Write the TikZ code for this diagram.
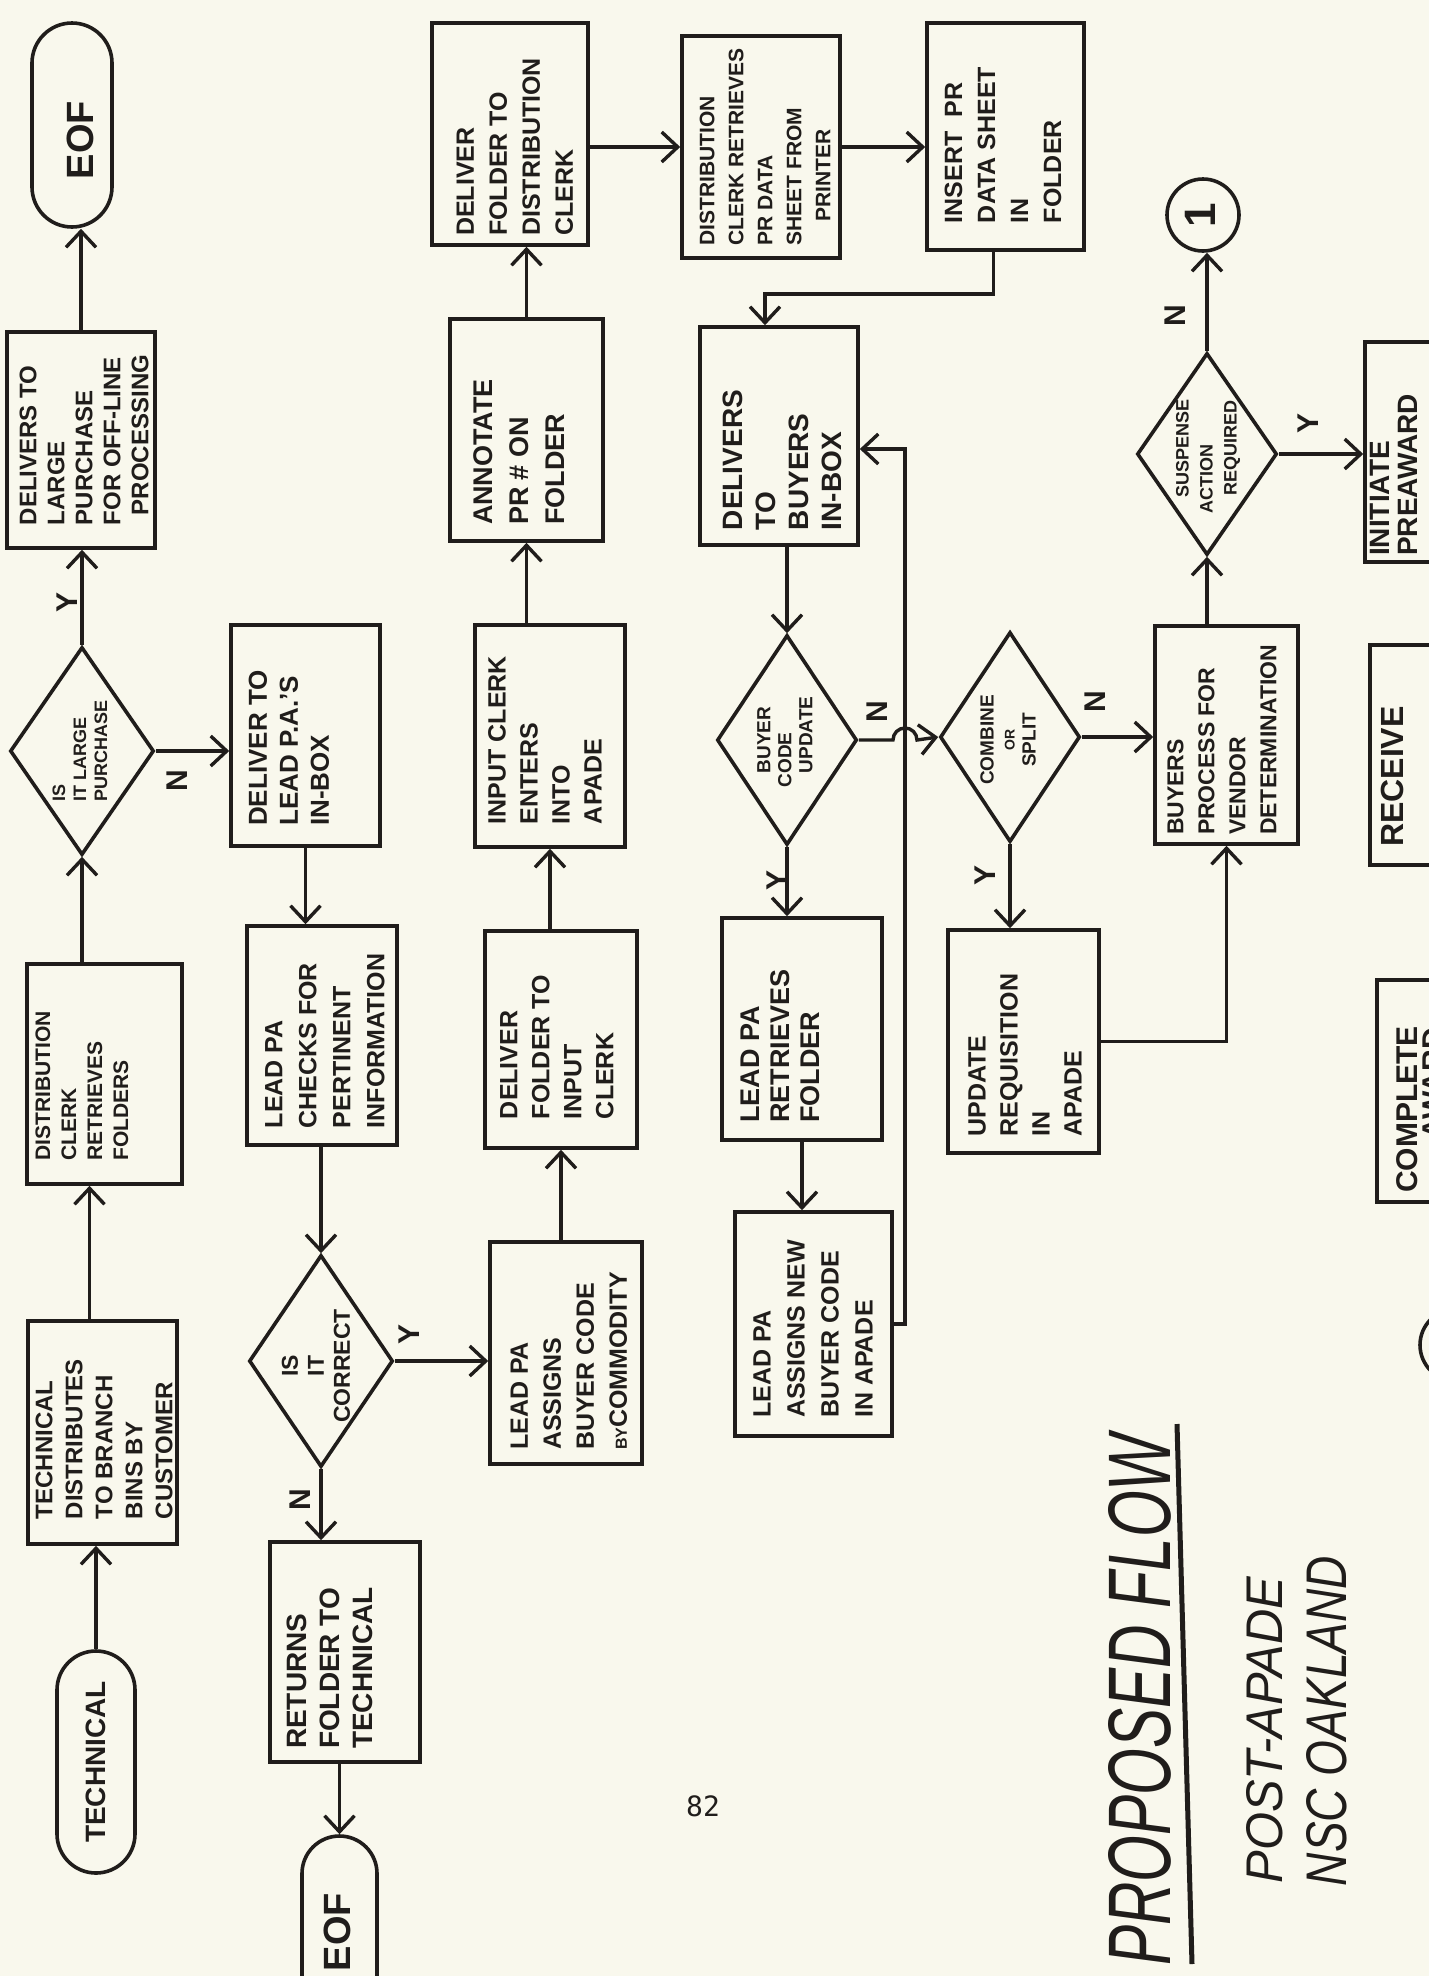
\documentclass[tikz,border=0pt]{standalone}
\usepackage{fontspec}
\usepackage{graphicx}
\setmainfont{Liberation Sans}
\newfontfamily\pagenofont{DejaVu Sans Mono}
\usetikzlibrary{shapes.geometric,arrows.meta,calc}
\definecolor{inkc}{RGB}{32,29,27}
\definecolor{paper}{RGB}{249,248,237}
\newcommand\fs[2]{\fontsize{#1}{#2}\selectfont}
\tikzset{
  stepbox/.style={draw=inkc, line width=3.6pt, rectangle, inner sep=0pt},
  termbox/.style={stepbox, rounded corners=#1},
  decide/.style={draw=inkc, line width=3.6pt, diamond, inner sep=0pt},
  conn/.style={draw=inkc, line width=3.4pt, -{Straight Barb[length=16pt,width=30pt]}},
  vt/.style={rotate=90, align=left, inner sep=0pt, text=inkc},
  vc/.style={rotate=90, align=center, inner sep=0pt, text=inkc},
  yn/.style={rotate=90, inner sep=0pt, text=inkc, font=\bfseries\fs{30}{30}},
}
\begin{document}
\begin{tikzpicture}[x=1pt,y=-1pt]
\useasboundingbox (0,0) rectangle (1429,1976);
\fill[paper] (0,0) rectangle (1429,1976);
\clip (0,0) rectangle (1429,1976);

% ---------- first column: intake ----------
\node[termbox=40pt, minimum width=80pt, minimum height=204pt] (eofA) at (72,125) {};
\node[vc, font=\bfseries\fs{38}{38}] (eofA-t) at (80,140) {EOF};
\node[stepbox, minimum width=148pt, minimum height=216pt] (dlp) at (81,440) {};
\node[vt, font=\bfseries\fs{24}{28}] (dlp-t) at (84,440) {DELIVERS TO\\LARGE\\PURCHASE\\FOR OFF-LINE\\\hspace{10pt}PROCESSING};
\node[decide, minimum width=144pt, minimum height=208pt] (d1) at (82,751) {};
\node[vt, font=\bfseries\fs{18}{21}] (d1-t) at (80,751) {IS\\IT LARGE\\PURCHASE};
\node[stepbox, minimum width=155pt, minimum height=220pt] (dcr) at (104.5,1074) {};
\node[vt, font=\bfseries\fs{21}{26}] (dcr-t) at (82,1086) {DISTRIBUTION\\CLERK\\RETRIEVES\\FOLDERS};
\node[stepbox, minimum width=149pt, minimum height=223pt] (tdb) at (102.5,1432.5) {};
\node[vt, font=\bfseries\fs{24}{30}] (tdb-t) at (104,1439) {TECHNICAL\\DISTRIBUTES\\TO BRANCH\\BINS BY\\CUSTOMER};
\node[termbox=39pt, minimum width=78pt, minimum height=222pt] (tech) at (96,1762) {};
\node[vc, font=\bfseries\fs{28}{28}] (tech-t) at (96,1762) {TECHNICAL};

% ---------- second column: lead PA review ----------
\node[stepbox, minimum width=149pt, minimum height=221pt] (dlpa) at (305.5,735.5) {};
\node[vt, font=\bfseries\fs{26}{31}] (dlpa-t) at (289,748) {DELIVER TO\\LEAD P.A.'S\\IN-BOX};
\node[stepbox, minimum width=150pt, minimum height=219pt] (lpc) at (322,1035.5) {};
\node[vt, font=\bfseries\fs{25}{34}] (lpc-t) at (325,1041) {LEAD PA\\CHECKS FOR\\PERTINENT\\INFORMATION};
\node[decide, minimum width=144pt, minimum height=212pt] (d2) at (321,1361) {};
\node[vc, font=\bfseries\fs{23}{26}] (d2-t) at (316,1366) {IS\\IT\\CORRECT};
\node[stepbox, minimum width=150pt, minimum height=220pt] (ret) at (345,1652) {};
\node[vt, font=\bfseries\fs{28}{33}] (ret-t) at (330,1668) {RETURNS\\FOLDER TO\\TECHNICAL};
\node[termbox=37.5pt, minimum width=75pt, minimum height=250pt] (eofB) at (339.5,1961) {};
\node[vc, font=\bfseries\fs{38}{38}] (eofB-t) at (337,1932) {EOF};

% ---------- third column: input clerk ----------
\node[stepbox, minimum width=152pt, minimum height=222pt] (lpa) at (566,1353) {};
\node[vt, font=\bfseries\fs{25}{33}] (lpa-t) at (569,1361) {LEAD PA\\ASSIGNS\\BUYER CODE\\{\fs{16}{16}BY}COMMODITY};
\node[stepbox, minimum width=152pt, minimum height=217pt] (dfi) at (561,1039.5) {};
\node[vt, font=\bfseries\fs{25}{32}] (dfi-t) at (557,1047) {DELIVER\\FOLDER TO\\INPUT\\CLERK};
\node[stepbox, minimum width=150pt, minimum height=222pt] (ice) at (550,736) {};
\node[vt, font=\bfseries\fs{25}{32}] (ice-t) at (545,740) {INPUT CLERK\\ENTERS\\INTO\\APADE};
\node[stepbox, minimum width=153pt, minimum height=222pt] (ann) at (526.5,430) {};
\node[vt, font=\bfseries\fs{27}{36}] (ann-t) at (519,452) {ANNOTATE\\PR \# ON\\FOLDER};
\node[stepbox, minimum width=156pt, minimum height=222pt] (dfd) at (510,134) {};
\node[vt, font=\bfseries\fs{25}{33}] (dfd-t) at (515,147) {DELIVER\\FOLDER TO\\DISTRIBUTION\\CLERK};

% ---------- fourth column: distribution clerk and buyer code ----------
\node[stepbox, minimum width=158pt, minimum height=222pt] (dcrp) at (761,147) {};
\node[vt, font=\bfseries\fs{21}{29}] (dcrp-t) at (765,147) {DISTRIBUTION\\CLERK RETRIEVES\\PR DATA\\SHEET FROM\\\hspace{24pt}PRINTER};
\node[stepbox, minimum width=158pt, minimum height=218pt] (dbi) at (779,436) {};
\node[vt, font=\bfseries\fs{28}{33}] (dbi-t) at (782,460) {DELIVERS\\TO\\BUYERS\\IN-BOX};
\node[decide, minimum width=140pt, minimum height=210pt] (d3) at (787,740) {};
\node[vt, font=\bfseries\fs{19}{21}] (d3-t) at (785,742) {\hspace{14pt}BUYER\\CODE\\\hspace{14pt}UPDATE};
\node[stepbox, minimum width=160pt, minimum height=222pt] (lpr) at (802,1029) {};
\node[vt, font=\bfseries\fs{27}{30}] (lpr-t) at (780,1046) {LEAD PA\\RETRIEVES\\FOLDER};
\node[stepbox, minimum width=157pt, minimum height=224pt] (lpn) at (813.5,1324) {};
\node[vt, font=\bfseries\fs{25}{34}] (lpn-t) at (813,1329) {LEAD PA\\ASSIGNS NEW\\BUYER CODE\\IN APADE};

% ---------- fifth column ----------
\node[stepbox, minimum width=157pt, minimum height=227pt] (ins) at (1005.5,136.5) {};
\node[vt, font=\bfseries\fs{25}{33}] (ins-t) at (1003,145) {INSERT\hspace{14pt}PR\\DATA SHEET\\IN\\FOLDER};
\node[decide, minimum width=140pt, minimum height=210pt] (d4) at (1010,737) {};
\node[vc, font=\bfseries\fs{19}{21}] (d4-t) at (1008,740) {COMBINE\\{\fs{14}{14}OR}\\SPLIT};
\node[stepbox, minimum width=151pt, minimum height=223pt] (upd) at (1023.5,1041.5) {};
\node[vt, font=\bfseries\fs{25}{32}] (upd-t) at (1025,1055) {UPDATE\\REQUISITION\\IN\\APADE};

% ---------- sixth column: buyers ----------
\node[draw=inkc, line width=3.6pt, circle, minimum size=72pt, inner sep=0pt] (c1) at (1203,215) {};
\node[vc, font=\bfseries\fs{44}{44}] (c1-t) at (1200,215) {1};
\node[decide, minimum width=140pt, minimum height=202pt] (d5) at (1207,454) {};
\node[vt, font=\bfseries\fs{18}{24}] (d5-t) at (1208,456) {\hspace{16pt}SUSPENSE\\ACTION\\\hspace{18pt}REQUIRED};
\node[stepbox, minimum width=143pt, minimum height=218pt] (bpv) at (1226.5,735) {};
\node[vt, font=\bfseries\fs{23}{31}] (bpv-t) at (1222,740) {BUYERS\\PROCESS FOR\\VENDOR\\DETERMINATION};

% ---------- column running off the right edge ----------
\node[stepbox, minimum width=120pt, minimum height=220pt] (init) at (1425,452) {};
\node[vt, anchor=north west, font=\bfseries\fs{28}{28}] (init-t) at (1370,556) {INITIATE\\PREAWARD};
\node[stepbox, minimum width=120pt, minimum height=220pt] (rcv) at (1430,755) {};
\node[vt, anchor=north west, font=\bfseries\fs{32}{32}] (rcv-t) at (1381,847) {RECEIVE};
\node[stepbox, minimum width=120pt, minimum height=222pt] (cmp) at (1437,1091) {};
\node[vt, anchor=north west, font=\bfseries\fs{30}{26}] (cmp-t) at (1396,1193) {COMPLETE\\\hspace{53pt}AWARD};
\node[draw=inkc, line width=3.6pt, circle, minimum size=72pt, inner sep=0pt] (c2) at (1456,1345) {};

% ---------- connectors ----------
\coordinate (vx) at (905,0);
\coordinate (dbi-in) at ($(dbi.east)+(0,13)$);
\draw[conn] (tech.north) -- (tech.north |- tdb.south);
\draw[conn] ($(tdb.north)+(-13,0)$) -- ($(tdb.north |- dcr.south)+(-13,0)$);
\draw[conn] (d1.south |- dcr.north) -- (d1.south);
\draw[conn] (d1.north) -- (d1.north |- dlp.south);
\draw[conn] (dlp.north) -- (dlp.north |- eofA.south);
\draw[conn] (d1.east) -- (d1.east -| dlpa.west);
\draw[conn] (dlpa.south) -- (dlpa.south |- lpc.north);
\draw[conn] (d2.north |- lpc.south) -- (d2.north);
\draw[conn] (d2.south) -- (d2.south |- ret.north);
\draw[conn] (eofB.north |- ret.south) -- (eofB.north);
\draw[conn] (d2.east) -- (d2.east -| lpa.west);
\draw[conn] (dfi.south |- lpa.north) -- (dfi.south);
\draw[conn] (ice.south |- dfi.north) -- (ice.south);
\draw[conn] (ann.south |- ice.north) -- (ann.south);
\draw[conn] (ann.north) -- (ann.north |- dfd.south);
\draw[conn] (dcrp.west -| dfd.east) -- (dcrp.west);
\draw[conn] (dcrp.east) -- (dcrp.east -| ins.west);
\draw[conn] ($(ins.south)+(-12,0)$) -- ++(0,42) -| ($(dbi.north)+(-14,0)$);
\draw[conn] (d3.north |- dbi.south) -- (d3.north);
\draw[conn] (d3.south) -- (d3.south |- lpr.north);
\draw[conn] (lpr.south) -- (lpr.south |- lpn.north);
\draw[conn] (lpn.east) -| (vx |- dbi-in) -- (dbi-in);
\draw[conn] (d3.east) -- ($(d3.east -| vx)+(-12,0)$) arc[start angle=180,end angle=0,radius=12pt] -- (d4.west);
\draw[conn] (d4.south) -- (d4.south |- upd.north);
\draw[conn] (upd.east) -| (bpv.south);
\draw[conn] (d4.east) -- (d4.east -| bpv.west);
\draw[conn] (d5.south |- bpv.north) -- (d5.south);
\draw[conn] (d5.north) -- (d5.north |- c1.south);
\draw[conn] (d5.east) -- (d5.east -| init.west);

% ---------- branch labels ----------
\node[yn] (y1) at (67,602) {Y};
\node[yn] (n1) at (177,781) {N};
\node[yn] (n2) at (300,1500) {N};
\node[yn] (y2) at (409,1334) {Y};
\node[yn] (y3) at (777,880) {Y};
\node[yn] (n3) at (877,712) {N};
\node[yn] (y4) at (985,875) {Y};
\node[yn] (n4) at (1095,702) {N};
\node[yn] (n5) at (1175,316) {N};
\node[yn] (y5) at (1308,423) {Y};

% ---------- title block and page number ----------
\node[rotate=90, inner sep=0pt, text=inkc] (title) at (1140,1700) {\resizebox{531pt}{62pt}{\itshape PROPOSED FLOW}};
\coordinate (ul-top) at (1177,1424);
\coordinate (ul-bot) at (1192,1964);
\draw[draw=inkc, line width=5pt] (ul-top) -- (ul-bot);
\node[rotate=90, inner sep=0pt, text=inkc] (sub1) at (1265,1730) {\resizebox{307pt}{36pt}{\itshape POST-APADE}};
\node[rotate=90, inner sep=0pt, text=inkc] (sub2) at (1327,1721) {\resizebox{330pt}{40pt}{\itshape NSC OAKLAND}};
\node[inner sep=0pt, text=inkc, font=\pagenofont\fs{28}{28}] (pgno) at (703,1806) {82};
\end{tikzpicture}
\end{document}
